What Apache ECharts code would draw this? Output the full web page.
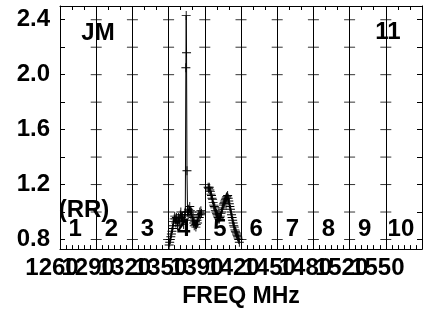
<!DOCTYPE html>
<html>
<head>
<meta charset="utf-8">
<script src="https://cdn.jsdelivr.net/npm/echarts@6/dist/echarts.min.js"></script>
<style>
  html, body { margin: 0; padding: 0; background: #fff; }
  #chart { width: 434px; height: 313px; }
</style>
</head>
<body>
<div id="chart"></div>
<script>
// band edges in MHz and their axis labels
var bandEdges = [1260, 1292.5, 1325, 1357.5, 1390, 1422.5, 1455, 1487.5, 1520, 1552.5, 1585];
var tickLabels = ['1260', '1290', '1320', '1350', '1390', '1420', '1450', '1480', '1520', '1550'];
var bandNames = ['1', '2', '3', '4', '5', '6', '7', '8', '9', '10'];
var yTicks = [0.8, 1.0, 1.2, 1.4, 1.6, 1.8, 2.0, 2.2, 2.4];
var yLabels = [0.8, 1.2, 1.6, 2.0, 2.4];

// band 4 spectrum (with the spike)
var band4Freq = [1358, 1358.5, 1359, 1359.5, 1360, 1360.5, 1361, 1361.5, 1362, 1362.5,
  1363, 1363.5, 1364, 1364.5, 1365, 1365.5, 1366, 1366.5, 1367, 1367.5,
  1368, 1368.5, 1369, 1369.5, 1370, 1370.5, 1371, 1371.5, 1372, 1372.5,
  1373, 1373.3, 1373.6, 1374,
  1374.5, 1375, 1375.5, 1376, 1376.5, 1377, 1377.5, 1378, 1378.5, 1379,
  1379.5, 1380, 1380.5, 1381, 1381.5, 1382, 1382.5, 1383, 1383.5, 1384,
  1384.5, 1385, 1385.5, 1386, 1386.5, 1387];
var band4Amp = [0.76, 0.78, 0.80, 0.82, 0.84, 0.86, 0.88, 0.90, 0.93, 0.95,
  0.97, 0.95, 0.92, 0.96, 0.94, 0.90, 0.93, 0.96, 0.92, 0.95,
  0.98, 1.00, 0.96, 0.93, 0.97, 0.94, 0.91, 0.95, 0.98, 1.00,
  2.05, 2.43, 2.16, 1.30,
  1.00, 0.98, 1.02, 1.00, 1.04, 1.01, 0.98, 1.00, 0.97, 0.94,
  0.96, 0.92, 0.90, 0.93, 0.91, 0.89, 0.91, 0.94, 0.92, 0.96,
  0.98, 0.96, 1.00, 0.98, 1.01, 0.99];

// band 5 spectrum
var band5Freq = [1393, 1393.5, 1394, 1394.5, 1395, 1395.5, 1396, 1396.5, 1397, 1397.5,
  1398, 1398.5, 1399, 1399.5, 1400, 1400.5, 1401, 1401.5, 1402, 1402.5,
  1403, 1403.5, 1404, 1404.5, 1405, 1405.5, 1406, 1406.5, 1407, 1407.5,
  1408, 1408.5, 1409, 1409.5, 1410, 1410.5, 1411, 1411.5, 1412, 1412.5,
  1413, 1413.5, 1414, 1414.5, 1415, 1415.5, 1416, 1416.5, 1417, 1417.5,
  1418, 1418.5, 1419, 1419.5, 1420, 1420.5, 1421];
var band5Amp = [1.18, 1.17, 1.18, 1.16, 1.15, 1.13, 1.12, 1.10, 1.09, 1.07,
  1.05, 1.04, 1.03, 1.01, 1.00, 0.99, 0.98, 0.97, 0.96, 0.95,
  0.95, 0.96, 0.97, 0.99, 1.00, 1.02, 1.03, 1.05, 1.06, 1.07,
  1.08, 1.09, 1.10, 1.11, 1.11, 1.12, 1.10, 1.08, 1.06, 1.04,
  1.02, 1.00, 0.98, 0.96, 0.94, 0.92, 0.90, 0.89, 0.87, 0.86,
  0.85, 0.84, 0.83, 0.82, 0.81, 0.80, 0.78];

var FONT = 'Liberation Sans';
var plus = 'path://M0,4.5H10V5.5H0Z M4.5,0H5.5V10H4.5Z';

function pairs(xs, ys) {
  return xs.map(function (x, i) { return [x, ys[i]]; });
}

// small crosses on the inner band edges at every y tick
var crosses = [];
bandEdges.slice(1, -1).forEach(function (f) {
  yTicks.forEach(function (v) { crosses.push([f, v]); });
});

// labels overlap in the original, so even and odd ones go on two axes
function freqLabel(parity) {
  return function (v) {
    var i = Math.round((v - 1260) / 32.5);
    return (i % 2 === parity && tickLabels[i]) ? tickLabels[i] : '';
  };
}
var labelStyle = {
  fontFamily: FONT, fontWeight: 'bold', fontSize: 24, color: '#000', margin: 7,
  padding: [0, 16, 0, 0], showMinLabel: true, showMaxLabel: false
};

var myChart = echarts.init(document.getElementById('chart'));

function label(x, y, t) {
  return { type: 'text', style: { x: x, y: y, text: t, font: 'bold 24px ' + FONT,
    fill: '#000', align: 'center', verticalAlign: 'middle' } };
}
var graphics = bandNames.map(function (n, i) { return label(60 + 36.2 * (i + 0.5) - 3, 229, n); });
graphics.push(label(98, 33, 'JM'));
graphics.push(label(388, 32, '11'));
graphics.push(label(84, 210, '(RR)'));

var option = {
  backgroundColor: '#fff',
  animation: false,
  grid: { left: 60, right: 12, top: 6, bottom: 55 },
  xAxis: [
    {
      type: 'value', position: 'bottom',
      min: 1260, max: 1585, interval: 32.5,
      name: 'FREQ MHz', nameLocation: 'middle', nameGap: 31,
      nameTextStyle: { fontFamily: FONT, fontWeight: 'bold', fontSize: 23, color: '#000' },
      axisLine: { lineStyle: { color: '#000', width: 1 } },
      axisTick: { show: true, inside: true, length: 4, lineStyle: { color: '#000' } },
      minorTick: { show: true, splitNumber: 6, length: 4, lineStyle: { color: '#000' } },
      splitLine: { show: true, lineStyle: { color: '#000', width: 1 } },
      axisLabel: Object.assign({ formatter: freqLabel(0) }, labelStyle)
    },
    {
      type: 'value', position: 'top',
      min: 1260, max: 1585, interval: 32.5,
      axisLine: { lineStyle: { color: '#000', width: 1 } },
      axisTick: { show: true, inside: true, length: 4, lineStyle: { color: '#000' } },
      minorTick: { show: true, splitNumber: 3, length: 4, lineStyle: { color: '#000' } },
      splitLine: { show: false },
      axisLabel: { show: false }
    },
    {
      type: 'value', position: 'bottom',
      min: 1260, max: 1585, interval: 32.5,
      axisLine: { show: false },
      axisTick: { show: false },
      splitLine: { show: false },
      axisLabel: Object.assign({ formatter: freqLabel(1) }, labelStyle)
    }
  ],
  yAxis: [
    {
      type: 'value', position: 'left', min: 0.73, max: 2.5,
      axisLine: { show: true, lineStyle: { color: '#000', width: 1 } },
      axisTick: { show: true, inside: true, length: 5, customValues: yTicks, lineStyle: { color: '#000' } },
      splitLine: { show: false },
      axisLabel: {
        customValues: yLabels, fontFamily: FONT, fontWeight: 'bold', fontSize: 24, color: '#000', margin: 10,
        formatter: function (v) { return v.toFixed(1); }
      }
    },
    {
      type: 'value', position: 'right', min: 0.73, max: 2.5,
      axisLine: { show: true, lineStyle: { color: '#000', width: 1 } },
      axisTick: { show: true, inside: true, length: 5, customValues: yTicks, lineStyle: { color: '#000' } },
      splitLine: { show: false },
      axisLabel: { show: false }
    }
  ],
  graphic: graphics,
  series: [
    {
      type: 'scatter', silent: true, data: crosses,
      symbol: 'rect', symbolSize: [11, 1],
      itemStyle: { color: '#000' }, z: 1
    },
    {
      type: 'line', data: pairs(band4Freq, band4Amp),
      symbol: plus, symbolSize: 9,
      lineStyle: { color: '#000', width: 1 },
      itemStyle: { color: '#000' }
    },
    {
      type: 'line', data: pairs(band5Freq, band5Amp),
      symbol: plus, symbolSize: 9,
      lineStyle: { color: '#000', width: 1 },
      itemStyle: { color: '#000' }
    }
  ]
};

myChart.setOption(option);
</script>
</body>
</html>
